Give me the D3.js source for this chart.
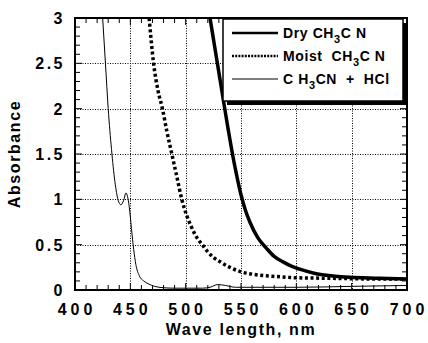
<!DOCTYPE html>
<html>
<head>
<meta charset="utf-8">
<script src="https://cdn.jsdelivr.net/npm/d3@7"></script>
<style>
    body { margin: 0; background: #fff; }
    svg text { font-family: "Liberation Sans", Arial, sans-serif; font-weight: bold; fill: #000; }
</style>
</head>
<body>
<svg id="chart" width="428" height="343"></svg>
<script>
// spectra
const dryNm = [522, 526, 530, 534, 538, 542, 546, 550, 554, 558, 565, 573, 580, 588, 596, 603, 618, 633, 648, 675, 700];
const dryAbs = [3.0, 2.7, 2.4, 2.1, 1.8, 1.52, 1.27, 1.05, 0.88, 0.75, 0.58, 0.46, 0.37, 0.31, 0.26, 0.23, 0.18, 0.155, 0.14, 0.13, 0.12];

const moistNm = [467, 471, 475, 479, 483, 487.5, 492, 496.5, 501, 505, 510, 515, 520, 525, 530, 540, 550, 560, 570, 580, 600, 625, 650, 675, 700];
const moistAbs = [3.0, 2.5, 2.2, 2.0, 1.75, 1.5, 1.25, 1.0, 0.82, 0.7, 0.58, 0.5, 0.42, 0.36, 0.32, 0.25, 0.2, 0.175, 0.16, 0.15, 0.135, 0.13, 0.125, 0.12, 0.12];

const hclNm = [425, 427.5, 430, 433, 436, 439, 441.5, 444, 446, 447.5, 449, 451, 453, 455, 458, 462, 466, 472, 480, 490, 500, 515, 522, 529, 536, 545, 560, 600, 650, 700];
const hclAbs = [3.0, 2.5, 2.0, 1.55, 1.2, 0.99, 0.94, 0.99, 1.07, 1.03, 0.92, 0.68, 0.45, 0.28, 0.16, 0.1, 0.07, 0.04, 0.025, 0.02, 0.02, 0.02, 0.03, 0.06, 0.05, 0.03, 0.03, 0.03, 0.04, 0.05];

const xTicks = [400, 450, 500, 550, 600, 650, 700];
const yTicks = [0, 0.5, 1, 1.5, 2, 2.5, 3];

const margin = { top: 18, right: 21, bottom: 53, left: 75 };
const W = 428, H = 343;
const width = W - margin.left - margin.right;
const height = H - margin.top - margin.bottom;

const svg = d3.select('#chart');
const g = svg.append('g').attr('transform', `translate(${margin.left},${margin.top})`);

const x = d3.scaleLinear().domain([400, 700]).range([0, width]);
const y = d3.scaleLinear().domain([0, 3]).range([height, 0]);

svg.append('defs').append('clipPath').attr('id', 'clip')
    .append('rect').attr('width', width).attr('height', height);

// dotted grid
const grid = g.append('g').attr('stroke', '#000').attr('stroke-width', 1).attr('stroke-dasharray', '1,1.5');
xTicks.slice(1, -1).forEach(v => {
    const px = Math.round(x(v)) + 0.5;
    grid.append('line').attr('x1', px).attr('x2', px).attr('y1', 0).attr('y2', height);
});
yTicks.slice(1, -1).forEach(v => {
    const py = Math.round(y(v)) + 0.5;
    grid.append('line').attr('x1', 0).attr('x2', width).attr('y1', py).attr('y2', py);
});

// inner ticks on all four sides
const minorX = d3.range(400, 701, 10);
const minorY = d3.range(0, 3.001, 0.1);
const tk = g.append('g').attr('stroke', '#000').attr('stroke-width', 1);
minorX.forEach(v => {
    const len = v % 50 === 0 ? 7 : 5;
    tk.append('line').attr('x1', x(v)).attr('x2', x(v)).attr('y1', height).attr('y2', height - len);
    tk.append('line').attr('x1', x(v)).attr('x2', x(v)).attr('y1', 0).attr('y2', len);
});
minorY.forEach(v => {
    const len = Math.abs(v * 2 - Math.round(v * 2)) < 1e-6 ? 7 : 5;
    tk.append('line').attr('x1', 0).attr('x2', len).attr('y1', y(v)).attr('y2', y(v));
    tk.append('line').attr('x1', width).attr('x2', width - len).attr('y1', y(v)).attr('y2', y(v));
});

// curves
const line = d3.line().x(d => x(d[0])).y(d => y(d[1])).curve(d3.curveMonotoneX);
const curves = g.append('g').attr('clip-path', 'url(#clip)');
curves.append('path').datum(d3.zip(hclNm, hclAbs)).attr('d', line)
    .attr('fill', 'none').attr('stroke', '#000').attr('stroke-width', 1);
curves.append('path').datum(d3.zip(moistNm, moistAbs)).attr('d', line)
    .attr('fill', 'none').attr('stroke', '#000').attr('stroke-width', 3.5).attr('stroke-dasharray', '3,2.6');
curves.append('path').datum(d3.zip(dryNm, dryAbs)).attr('d', line)
    .attr('fill', 'none').attr('stroke', '#000').attr('stroke-width', 3.5);

// frame
g.append('rect').attr('width', width).attr('height', height)
    .attr('fill', 'none').attr('stroke', '#000').attr('stroke-width', 2);

// tick labels
g.selectAll('.xl').data(xTicks).enter().append('text')
    .attr('x', d => x(d) + 2).attr('y', height + 25)
    .attr('text-anchor', 'middle').attr('font-size', 16).attr('letter-spacing', 4)
    .text(d => d);
g.selectAll('.yl').data(yTicks).enter().append('text')
    .attr('x', -10).attr('y', d => y(d) + 6)
    .attr('text-anchor', 'end').attr('font-size', 16).attr('letter-spacing', 2.5)
    .text(d => d);

// axis titles
g.append('text').attr('x', width / 2).attr('y', height + 45)
    .attr('text-anchor', 'middle').attr('font-size', 16).attr('letter-spacing', 1.6)
    .text('Wave length, nm');
g.append('text').attr('transform', `translate(${-55},${height / 2}) rotate(-90)`)
    .attr('text-anchor', 'middle').attr('font-size', 16).attr('letter-spacing', 1.6)
    .text('Absorbance');

// legend with drop shadow
const lg = svg.append('g').attr('transform', 'translate(223,19)');
lg.append('rect').attr('x', 4).attr('y', 4).attr('width', 180).attr('height', 82).attr('fill', '#000');
lg.append('rect').attr('width', 180).attr('height', 82).attr('fill', '#fff').attr('stroke', '#000').attr('stroke-width', 1.5);

const legendRows = [
    { pre: 'Dry CH', post: 'C N', width: 2.5, dash: null },
    { pre: 'Moist  CH', post: 'C N', width: 2.5, dash: '2,1.2' },
    { pre: 'C H', post: 'CN  +  HCl', width: 1, dash: null }
];
legendRows.forEach((r, i) => {
    const yy = 14 + i * 23;
    lg.append('line').attr('x1', 9).attr('x2', 55).attr('y1', yy).attr('y2', yy)
        .attr('stroke', '#000').attr('stroke-width', r.width).attr('stroke-dasharray', r.dash);
    const t = lg.append('text').attr('x', 60).attr('y', yy + 5).attr('font-size', 14)
        .attr('letter-spacing', 0.6).style('white-space', 'pre');
    t.append('tspan').text(r.pre);
    t.append('tspan').attr('font-size', 11).attr('dy', 5).text('3');
    t.append('tspan').attr('dy', -5).text(r.post);
});
</script>
</body>
</html>
